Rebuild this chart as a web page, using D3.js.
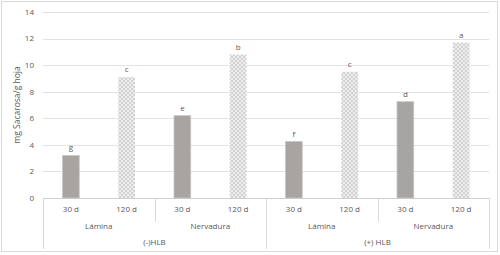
<!DOCTYPE html>
<html>
<head>
<meta charset="utf-8">
<script src="https://cdn.jsdelivr.net/npm/d3@7"></script>
<style>
  body { margin: 0; background: #fff; }
  svg { display: block; font-family: 'Open Sans', 'Noto Sans', sans-serif; }
</style>
</head>
<body>
<svg id="chart"></svg>
<script>
const groups = ['(-)HLB', '(+) HLB'];
const tissues = ['Lámina', 'Nervadura'];
const times = ['30 d', '120 d'];
const values = [3.2, 9.1, 6.2, 10.8, 4.25, 9.5, 7.25, 11.7];
const letters = ['g', 'c', 'e', 'b', 'f', 'c', 'd', 'a'];
const yTicks = [0, 2, 4, 6, 8, 10, 12, 14];

const W = 500, H = 255;
const margin = { top: 12, right: 11, bottom: 57, left: 43 };
const width = W - margin.left - margin.right;
const height = H - margin.top - margin.bottom;

const bars = [];
groups.forEach((g, gi) => tissues.forEach((t, ti) => times.forEach((tm, mi) => {
    const i = gi * 4 + ti * 2 + mi;
    bars.push({ key: i, group: g, tissue: t, time: tm, value: values[i], letter: letters[i] });
})));

const svg = d3.select('#chart').attr('width', W).attr('height', H);

// light checker texture for the 120 d bars
const defs = svg.append('defs');
const pat = defs.append('pattern')
    .attr('id', 'dots')
    .attr('patternUnits', 'userSpaceOnUse')
    .attr('width', 4).attr('height', 4);
pat.append('rect').attr('width', 4).attr('height', 4).attr('fill', '#eeeeee');
pat.append('rect').attr('width', 2).attr('height', 2).attr('fill', '#d2d2d2');
pat.append('rect').attr('x', 2).attr('y', 2).attr('width', 2).attr('height', 2).attr('fill', '#d2d2d2');

// chart frame
svg.append('rect')
    .attr('x', 1.5).attr('y', 1.5)
    .attr('width', W - 4).attr('height', H - 5)
    .attr('fill', 'none').attr('stroke', '#d9d9d9');

const g = svg.append('g').attr('transform', `translate(${margin.left},${margin.top})`);

const x = d3.scaleBand().domain(bars.map(d => d.key)).range([0, width]);
const y = d3.scaleLinear().domain([0, 14]).range([height, 0]);

// gridlines
g.append('g')
    .selectAll('line')
    .data(yTicks)
    .enter()
    .append('line')
    .attr('x1', 0).attr('x2', width)
    .attr('y1', d => Math.round(y(d)) + 0.5).attr('y2', d => Math.round(y(d)) + 0.5)
    .attr('stroke', d => d === 0 ? '#d0d0d0' : '#e3e3e3');

// y labels
g.append('g')
    .selectAll('text')
    .data(yTicks)
    .enter()
    .append('text')
    .attr('x', -9)
    .attr('y', d => y(d))
    .attr('dy', '0.35em')
    .attr('text-anchor', 'end')
    .attr('fill', '#595959')
    .style('font-size', '8px')
    .text(d => d);

svg.append('text')
    .attr('transform', `translate(20,${margin.top + height / 2}) rotate(-90)`)
    .attr('text-anchor', 'middle')
    .attr('fill', '#595959')
    .style('font-size', '8.5px')
    .text('mg Sacarosa/g hoja');

const bw = x.bandwidth() * 0.3;

g.selectAll('.bar')
    .data(bars)
    .enter()
    .append('rect')
    .attr('class', 'bar')
    .attr('x', d => x(d.key) + (x.bandwidth() - bw) / 2)
    .attr('y', d => y(d.value))
    .attr('width', bw)
    .attr('height', d => y(0) - y(d.value))
    .attr('fill', d => d.time === '30 d' ? '#a8a4a2' : 'url(#dots)')
    .attr('stroke', d => d.time === '30 d' ? '#c9c6c4' : 'none')
    .attr('stroke-width', 0.8);

g.selectAll('.lbl')
    .data(bars)
    .enter()
    .append('text')
    .attr('class', 'lbl')
    .attr('x', d => x(d.key) + x.bandwidth() / 2)
    .attr('y', d => y(d.value) - 5)
    .attr('text-anchor', 'middle')
    .attr('fill', '#595959')
    .style('font-size', '8px')
    .text(d => d.letter);

// category axis
const ax = g.append('g').attr('transform', `translate(0,${height})`);
const step = x.step();

ax.selectAll('.t1')
    .data(bars)
    .enter()
    .append('text')
    .attr('x', d => x(d.key) + step / 2)
    .attr('y', 14)
    .attr('text-anchor', 'middle')
    .attr('fill', '#595959')
    .style('font-size', '8px')
    .text(d => d.time);

const tissueCells = bars.filter(d => d.time === '30 d');
ax.selectAll('.t2')
    .data(tissueCells)
    .enter()
    .append('text')
    .attr('x', d => x(d.key) + step)
    .attr('y', 31)
    .attr('text-anchor', 'middle')
    .attr('fill', '#595959')
    .style('font-size', '8px')
    .text(d => d.tissue);

const groupCells = bars.filter(d => d.key % 4 === 0);
ax.selectAll('.t3')
    .data(groupCells)
    .enter()
    .append('text')
    .attr('x', d => x(d.key) + step * 2)
    .attr('y', 47)
    .attr('text-anchor', 'middle')
    .attr('fill', '#595959')
    .style('font-size', '8px')
    .text(d => d.group);

// divider lines
ax.selectAll('.d2')
    .data(tissueCells.filter(d => d.key % 4 !== 0))
    .enter()
    .append('line')
    .attr('x1', d => Math.round(x(d.key)) + 0.5).attr('x2', d => Math.round(x(d.key)) + 0.5)
    .attr('y1', 0).attr('y2', 24)
    .attr('stroke', '#d9d9d9');

ax.selectAll('.d3')
    .data([0, 4, 8])
    .enter()
    .append('line')
    .attr('x1', d => Math.round(d < 8 ? x(d) : width) + 0.5)
    .attr('x2', d => Math.round(d < 8 ? x(d) : width) + 0.5)
    .attr('y1', 0).attr('y2', 51)
    .attr('stroke', '#d9d9d9');
</script>
</body>
</html>
